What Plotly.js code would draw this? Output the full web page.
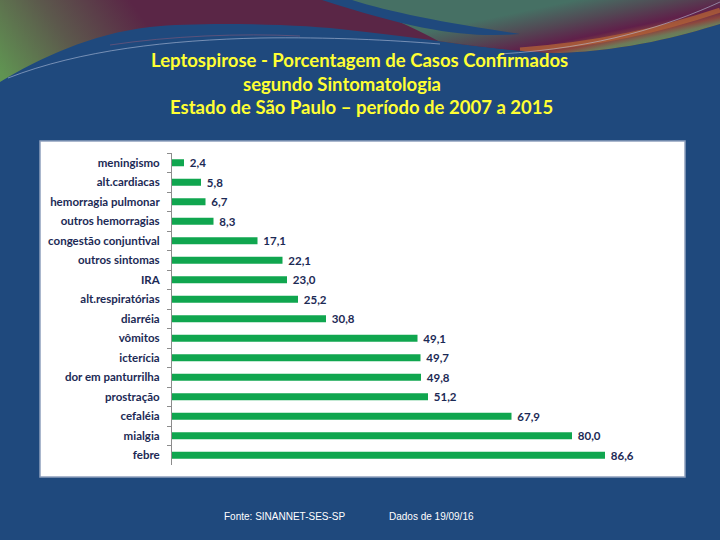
<!DOCTYPE html>
<html>
<head>
<meta charset="utf-8">
<script src="https://cdn.plot.ly/plotly-3.0.1.min.js"></script>
<style>
  html, body { margin: 0; padding: 0; background: #1f497d; }
  #chart { width: 720px; height: 540px; }
</style>
</head>
<body>
<div id="chart"></div>
<script>
// ---- data ----
const categories = [
  "meningismo", "alt.cardiacas", "hemorragia pulmonar", "outros hemorragias",
  "congestão conjuntival", "outros sintomas", "IRA", "alt.respiratórias",
  "diarréia", "vômitos", "icterícia", "dor em panturrilha", "prostração",
  "cefaléia", "mialgia", "febre"
];
const values = [2.4, 5.8, 6.7, 8.3, 17.1, 22.1, 23.0, 25.2, 30.8, 49.1, 49.7, 49.8, 51.2, 67.9, 80.0, 86.6];
const titleLines = [
  "Leptospirose - Porcentagem de Casos Confirmados",
  "segundo Sintomatologia",
  "Estado de São Paulo – período de 2007 a 2015"
];
const footerSource = "Fonte: SINANNET-SES-SP";
const footerDate = "Dados de 19/09/16";

const valueLabels = values.map(v => v.toFixed(1).replace('.', ','));

// ---- geometry helpers (figure pixels -> paper coords) ----
const W = 720, H = 540, ML = 172, MR = 48, MT = 153, MB = 75;
const PW = W - ML - MR, PH = H - MT - MB;
const px = x => (x - ML) / PW;
const py = y => (H - MB - y) / PH;

// ---- decorative header drawn on a canvas ----
function decoration() {
  const c = document.createElement('canvas');
  c.width = 720; c.height = 100;
  const g = c.getContext('2d');
  g.fillStyle = '#1f497d';
  g.fillRect(0, 0, 720, 100);

  g.save();
  g.beginPath();
  g.moveTo(0, 0);
  g.lineTo(720, 0);
  g.lineTo(720, 24);
  g.bezierCurveTo(680, 36, 630, 50, 560, 53);
  g.bezierCurveTo(500, 52, 430, 38, 330, 28);
  g.bezierCurveTo(280, 24, 200, 22, 150, 27);
  g.bezierCurveTo(90, 34, 40, 58, 0, 82);
  g.closePath();
  g.clip();

  let lg = g.createLinearGradient(130, 0, 10, 85);
  lg.addColorStop(0, 'rgb(90,38,70)');
  lg.addColorStop(0.5, 'rgb(92,88,76)');
  lg.addColorStop(1, 'rgb(96,148,82)');
  g.fillStyle = lg;
  g.fillRect(0, 0, 720, 100);

  let rg = g.createLinearGradient(600, -5, 612, 52);
  rg.addColorStop(0, 'rgb(70,112,100)');
  rg.addColorStop(0.35, 'rgb(82,72,84)');
  rg.addColorStop(0.65, 'rgb(96,32,74)');
  rg.addColorStop(0.8, 'rgb(140,70,62)');
  rg.addColorStop(0.9, 'rgb(110,120,88)');
  rg.addColorStop(1, 'rgb(95,138,92)');
  g.fillStyle = rg;
  g.beginPath();
  g.moveTo(345, 0);
  g.lineTo(720, 0);
  g.lineTo(720, 60);
  g.lineTo(470, 60);
  g.bezierCurveTo(440, 40, 400, 20, 345, 0);
  g.closePath();
  g.fill();

  g.fillStyle = '#1f497d';
  g.beginPath();
  g.moveTo(322, 0);
  g.lineTo(352, 0);
  g.bezierCurveTo(390, 12, 440, 22, 520, 34);
  g.bezierCurveTo(470, 38, 420, 32, 322, 0);
  g.closePath();
  g.fill();

  g.strokeStyle = 'rgba(175,95,55,0.8)';
  g.lineWidth = 5;
  g.beginPath();
  g.moveTo(520, 50);
  g.bezierCurveTo(600, 44, 660, 30, 720, 10);
  g.stroke();
  g.restore();

  g.strokeStyle = 'rgba(190,200,225,0.55)';
  g.lineWidth = 1;
  g.beginPath();
  g.moveTo(8, 78);
  g.bezierCurveTo(80, 50, 170, 40, 260, 38);
  g.bezierCurveTo(330, 37, 390, 40, 440, 44);
  g.stroke();
  g.beginPath();
  g.moveTo(500, 54);
  g.bezierCurveTo(600, 48, 670, 25, 720, 2);
  g.stroke();
  g.strokeStyle = 'rgba(150,90,120,0.5)';
  g.beginPath();
  g.moveTo(110, 45);
  g.bezierCurveTo(170, 36, 240, 33, 300, 36);
  g.stroke();
  return c.toDataURL('image/png');
}

const labelFont = { family: 'Lato, Carlito, sans-serif', size: 11.5, color: '#1c2a55', weight: 'bold' };

const trace = {
  type: 'bar',
  orientation: 'h',
  x: values,
  y: categories,
  width: 0.36,
  marker: { color: '#10a64f' },
  text: valueLabels.map(t => ' ' + t),
  textposition: 'outside',
  constraintext: 'none',
  cliponaxis: false,
  textfont: labelFont,
  hoverinfo: 'x+y'
};

const titleFont = { family: 'Lato, Carlito, sans-serif', size: 18.5, color: '#ffff33', weight: 'bold' };

const layout = {
  width: W, height: H,
  margin: { l: ML, r: MR, t: MT, b: MB, pad: 0 },
  paper_bgcolor: '#1f497d',
  plot_bgcolor: 'rgba(0,0,0,0)',
  showlegend: false,
  bargap: 0.64,
  xaxis: { range: [0, 100], visible: false, fixedrange: true },
  yaxis: {
    type: 'category',
    categoryorder: 'array',
    categoryarray: categories,
    autorange: 'reversed',
    showline: true, linecolor: '#8c8c8c', linewidth: 1,
    ticks: 'outside', tickson: 'boundaries', ticklen: 4, tickcolor: '#8c8c8c',
    ticklabelstandoff: 9,
    showgrid: false, zeroline: false,
    tickfont: labelFont,
    fixedrange: true
  },
  images: [{
    source: decoration(),
    xref: 'paper', yref: 'paper',
    x: px(0), y: py(0), sizex: 720 / PW, sizey: 100 / PH,
    xanchor: 'left', yanchor: 'top', sizing: 'stretch', layer: 'below'
  }],
  shapes: [{
    type: 'rect', xref: 'paper', yref: 'paper',
    x0: px(40), x1: px(685), y0: py(477), y1: py(141),
    fillcolor: '#ffffff', line: { color: '#8ea0bd', width: 1.5 }, layer: 'below'
  }],
  annotations: [
    { text: titleLines[0], xref: 'paper', yref: 'paper', x: px(359), y: py(60), xanchor: 'center', yanchor: 'middle', showarrow: false, font: titleFont },
    { text: titleLines[1], xref: 'paper', yref: 'paper', x: px(342), y: py(84), xanchor: 'center', yanchor: 'middle', showarrow: false, font: titleFont },
    { text: titleLines[2], xref: 'paper', yref: 'paper', x: px(361), y: py(107), xanchor: 'center', yanchor: 'middle', showarrow: false, font: titleFont },
    { text: footerSource, xref: 'paper', yref: 'paper', x: px(222), y: py(516), xanchor: 'left', yanchor: 'middle', showarrow: false, font: { family: 'Liberation Sans, Arial, sans-serif', size: 10, color: '#ffffff' } },
    { text: footerDate, xref: 'paper', yref: 'paper', x: px(387), y: py(516), xanchor: 'left', yanchor: 'middle', showarrow: false, font: { family: 'Liberation Sans, Arial, sans-serif', size: 10, color: '#ffffff' } }
  ]
};

Plotly.newPlot('chart', [trace], layout, { displayModeBar: false, staticPlot: true });
</script>
</body>
</html>
